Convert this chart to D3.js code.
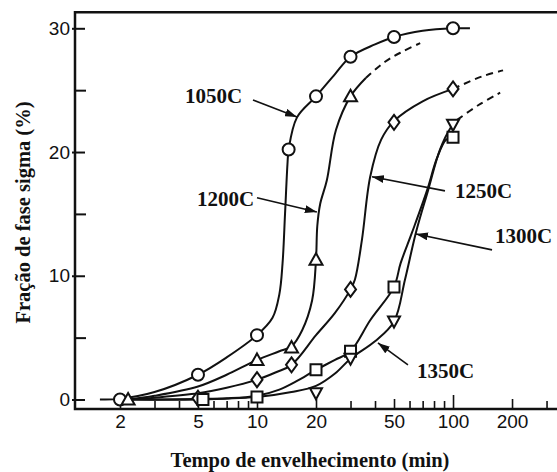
<!DOCTYPE html>
<html>
<head>
<meta charset="utf-8">
<script src="https://cdn.jsdelivr.net/npm/d3@7/dist/d3.min.js"></script>
<style>
  body { margin: 0; background: #fff; }
  svg { display: block; }
  .tick text { font-family: "Liberation Sans", Arial, sans-serif; font-size: 19px; fill: #111; }
  .serif { font-family: "Liberation Serif", "Times New Roman", serif; font-weight: bold; fill: #111; }
</style>
</head>
<body>
<svg id="chart" width="557" height="472"></svg>
<script>
// ---- axis ticks ----
const xLabelTicks = [2, 5, 10, 20, 50, 100, 200];
const xMinorTicks = [3, 4, 6, 7, 8, 9, 30, 40, 60, 70, 80, 90, 300];
const yMajorTicks = [0, 10, 20, 30];
const yMinorTicks = [5, 15, 25];

// ---- measured points: ageing time (min) and sigma fraction (%) ----
const t1050 = [2, 5, 10, 14.5, 20, 30, 50, 100];
const v1050 = [0, 2.0, 5.2, 20.2, 24.5, 27.7, 29.3, 30.0];
const t1200 = [2.2, 10, 15, 20, 30];
const v1200 = [0, 3.2, 4.2, 11.3, 24.5];
const t1250 = [5, 10, 15, 30, 50, 100];
const v1250 = [0.1, 1.6, 2.8, 8.9, 22.4, 25.1];
const t1300 = [5.3, 10, 20, 30, 50, 100];
const v1300 = [0, 0.2, 2.4, 3.9, 9.1, 21.2];
const t1350 = [20, 30, 50, 100];
const v1350 = [0.5, 3.3, 6.3, 22.2];

// ---- fitted curves (solid) ----
const c1050T = [1.58, 2, 3, 5, 7, 10, 12, 13, 13.5, 13.9, 14.3, 14.5, 16, 20, 25, 30, 40, 50, 70, 100, 122];
const c1050V = [0, 0.05, 0.6, 2.0, 3.4, 5.2, 6.6, 8.5, 11, 15, 19, 20.2, 22.8, 24.5, 26.3, 27.7, 28.7, 29.3, 29.8, 30.0, 30.0];
const c1200T = [2.2, 3, 5, 7, 10, 13, 15, 17, 19.1, 20, 20.3, 21, 22.7, 25.3, 30, 36];
const c1200V = [0, 0.3, 1.05, 2.0, 3.2, 3.9, 4.3, 5.6, 8.0, 11.3, 14, 15.8, 17.7, 21.8, 24.5, 26.0];
const c1250T = [2.2, 3, 5, 7, 10, 12.5, 15, 20, 25, 30, 31.6, 34.3, 37.8, 43, 50, 70, 100];
const c1250V = [0, 0.15, 0.5, 0.95, 1.6, 2.2, 2.8, 5.2, 7.0, 8.9, 9.7, 12.9, 18, 21, 22.5, 24.1, 25.1];
const c1300T = [2.2, 3, 5, 7, 10, 13, 16, 20, 25, 30, 37.8, 50, 54, 61.8, 73.7, 82.8, 92.1, 100];
const c1300V = [0, 0, 0.05, 0.1, 0.3, 0.8, 1.5, 2.4, 3.2, 3.9, 6.4, 9.1, 11.0, 13.5, 16.9, 19.5, 21.0, 21.2];
const c1350T = [2.2, 5, 10, 15, 20, 25, 30, 40, 50, 56.9, 64.7, 74.6, 85.8, 97.6, 100];
const c1350V = [0, 0, 0.2, 0.6, 1.1, 2.1, 3.3, 4.7, 6.3, 9.7, 13.5, 16.9, 20.2, 22.0, 22.2];

// ---- extrapolated curves (dashed) ----
const d1200T = [36, 45, 55, 68];
const d1200V = [26.0, 27.3, 28.1, 28.8];
const d1250T = [100, 140, 180];
const d1250V = [25.1, 26.1, 26.6];
const d1350T = [105, 135, 174];
const d1350V = [22.6, 23.8, 24.8];

// ---- temperature labels and leader arrows (data coordinates) ----
const labelText = ["1050C", "1200C", "1250C", "1300C", "1350C"];
const labelT    = [4.29, 4.94, 102.3, 163.8, 65.5];
const labelV    = [24.0, 15.65, 16.3, 12.65, 1.74];
const arrowFromT = [9.54, 10.0, 91.0, 158.1, 58.9];
const arrowFromV = [24.2, 16.3, 16.86, 12.09, 2.79];
const arrowToT   = [16.0, 20.2, 38.6, 64.7, 41.4];
const arrowToV   = [22.84, 15.16, 18.0, 13.38, 4.57];

const zip = (a, b) => a.map((d, i) => [d, b[i]]);

const svg = d3.select("#chart");
const frame = { left: 75, top: 12.3, bottom: 409, right: 557 };

const x = d3.scaleLog().domain([1.2, 340]).range([76.5, 557.2]);
const y = d3.scaleLinear().domain([0, 30]).range([399.5, 28.3]);

// ---- frame ----
svg.append("path")
  .attr("d", `M${frame.right},${frame.top}H${frame.left}V${frame.bottom}H${frame.right}`)
  .attr("fill", "none").attr("stroke", "#111").attr("stroke-width", 2.5);

// ---- x axis ----
const gx = svg.append("g").attr("transform", `translate(0,${frame.bottom})`);
gx.append("g")
  .call(d3.axisBottom(x).tickValues(xLabelTicks).tickFormat(d3.format("d"))
    .tickSizeInner(-10).tickSizeOuter(0).tickPadding(5.5))
  .call(g => g.select(".domain").remove());
gx.append("g")
  .call(d3.axisBottom(x).tickValues(xMinorTicks).tickFormat("")
    .tickSizeInner(-8).tickSizeOuter(0))
  .call(g => g.select(".domain").remove());
gx.selectAll(".tick line").attr("stroke", "#111").attr("stroke-width", 1.6);
gx.selectAll(".tick").filter(d => d === 100).select("line").attr("y2", -14);

// ---- y axis ----
const gy = svg.append("g").attr("transform", `translate(${frame.left},0)`);
gy.append("g")
  .call(d3.axisLeft(y).tickValues(yMajorTicks).tickFormat(d3.format("d"))
    .tickSizeInner(-10).tickSizeOuter(0).tickPadding(5))
  .call(g => g.select(".domain").remove())
  .call(g => g.selectAll(".tick line").attr("x1", -3));
gy.append("g")
  .call(d3.axisLeft(y).tickValues(yMinorTicks).tickFormat("")
    .tickSizeInner(-11).tickSizeOuter(0))
  .call(g => g.select(".domain").remove());
gy.selectAll(".tick line").attr("stroke", "#111").attr("stroke-width", 2);

// ---- axis titles ----
svg.append("text").attr("class", "serif")
  .attr("x", 310).attr("y", 467)
  .attr("text-anchor", "middle").attr("font-size", 20.5)
  .text("Tempo de envelhecimento (min)");
svg.append("text").attr("class", "serif")
  .attr("transform", "translate(30,212.5) rotate(-90)")
  .attr("text-anchor", "middle").attr("font-size", 20.5)
  .text("Fração de fase sigma (%)");

// ---- curves ----
const line = d3.line()
  .x(d => x(d[0])).y(d => y(d[1]))
  .curve(d3.curveCatmullRom.alpha(0.5));

const solid = [zip(c1050T, c1050V), zip(c1200T, c1200V), zip(c1250T, c1250V),
               zip(c1300T, c1300V), zip(c1350T, c1350V)];
const dashed = [zip(d1200T, d1200V), zip(d1250T, d1250V), zip(d1350T, d1350V)];

svg.append("g").selectAll("path").data(solid).join("path")
  .attr("d", line).attr("fill", "none")
  .attr("stroke", "#111").attr("stroke-width", 2);
svg.append("g").selectAll("path").data(dashed).join("path")
  .attr("d", line).attr("fill", "none")
  .attr("stroke", "#111").attr("stroke-width", 2)
  .attr("stroke-dasharray", "7,5");

// ---- markers ----
const shapes = {
  triUp:   "M0,-6.5L6.5,5L-6.5,5Z",
  triDown: "M0,6L6,-5L-6,-5Z",
  diamond: "M0,-7.5L5.5,0L0,7.5L-5.5,0Z",
  square:  "M-5.5,-5.5H5.5V5.5H-5.5Z"
};
const markerStyle = sel => sel.attr("fill", "#fff").attr("stroke", "#111").attr("stroke-width", 2);

svg.append("g").selectAll("circle").data(zip(t1050, v1050)).join("circle")
  .attr("cx", d => x(d[0])).attr("cy", d => y(d[1])).attr("r", 6)
  .call(markerStyle);

const symbolSeries = [
  [zip(t1250, v1250), shapes.diamond],
  [zip(t1200, v1200), shapes.triUp],
  [zip(t1300, v1300), shapes.square],
  [zip(t1350, v1350), shapes.triDown]
];
symbolSeries.forEach(([pts, shape]) => {
  svg.append("g").selectAll("path").data(pts).join("path")
    .attr("d", shape)
    .attr("transform", d => `translate(${x(d[0])},${y(d[1])})`)
    .call(markerStyle);
});

// ---- labels with leader arrows ----
svg.append("defs").append("marker")
  .attr("id", "head").attr("markerUnits", "userSpaceOnUse")
  .attr("viewBox", "0 0 12 8").attr("refX", 12).attr("refY", 4)
  .attr("markerWidth", 12).attr("markerHeight", 8).attr("orient", "auto")
  .append("path").attr("d", "M0,0L12,4L0,8Z").attr("fill", "#111");

const ann = svg.append("g");
labelText.forEach((txt, i) => {
  ann.append("line")
    .attr("x1", x(arrowFromT[i])).attr("y1", y(arrowFromV[i]))
    .attr("x2", x(arrowToT[i])).attr("y2", y(arrowToV[i]))
    .attr("stroke", "#111").attr("stroke-width", 1.6)
    .attr("marker-end", "url(#head)");
  ann.append("text").attr("class", "serif")
    .attr("x", x(labelT[i])).attr("y", y(labelV[i]))
    .attr("font-size", 21)
    .text(txt);
});
</script>
</body>
</html>
